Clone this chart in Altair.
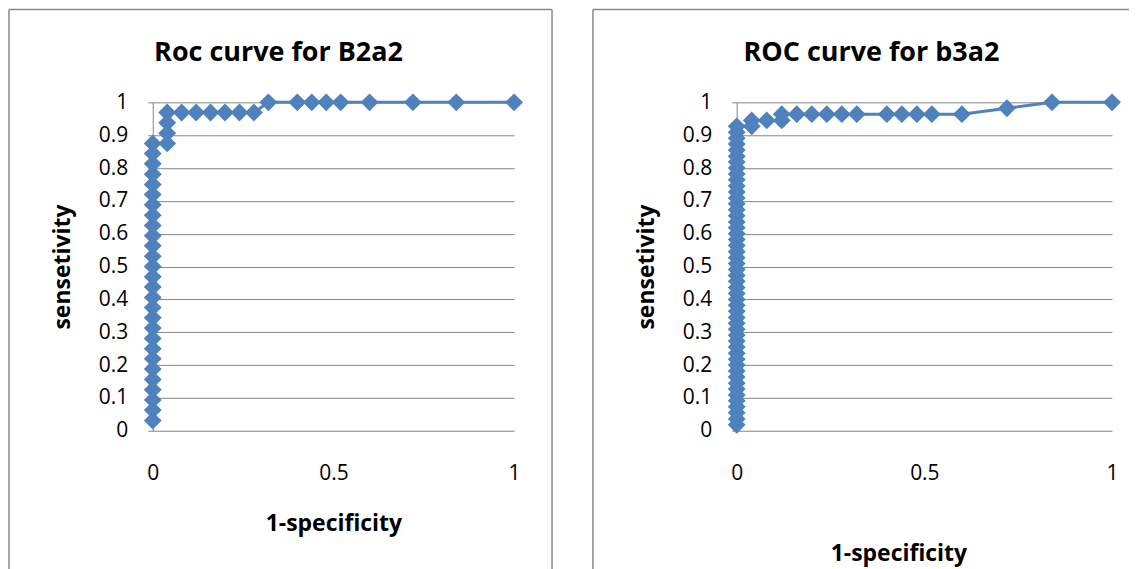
import altair as alt
import pandas as pd

# ---------------- data ----------------
x_ticks = [0, 0.5, 1]
y_ticks = [0, 0.1, 0.2, 0.3, 0.4, 0.5, 0.6, 0.7, 0.8, 0.9, 1]

# Roc curve for B2a2
fpr_b2a2 = ([0.0] * 28
            + [0.04, 0.04, 0.04, 0.04, 0.08, 0.12, 0.16, 0.2, 0.24, 0.28,
               0.32, 0.4, 0.44, 0.48, 0.52, 0.6, 0.72, 0.84, 1.0])
tpr_b2a2 = [0.031, 0.063, 0.094, 0.125, 0.156, 0.188, 0.219, 0.25, 0.281, 0.313,
            0.344, 0.375, 0.406, 0.438, 0.469, 0.5, 0.531, 0.563, 0.594, 0.625,
            0.656, 0.688, 0.719, 0.75, 0.781, 0.813, 0.844, 0.875,
            0.875, 0.906, 0.938, 0.969, 0.969, 0.969, 0.969, 0.969, 0.969, 0.969,
            1.0, 1.0, 1.0, 1.0, 1.0, 1.0, 1.0, 1.0, 1.0]

# ROC curve for b3a2
fpr_b3a2 = ([0.0] * 51
            + [0.04, 0.04, 0.08, 0.12, 0.12, 0.16, 0.2, 0.24, 0.28, 0.32,
               0.4, 0.44, 0.48, 0.52, 0.6, 0.72, 0.84, 1.0])
tpr_b3a2 = [0.018, 0.036, 0.055, 0.073, 0.091, 0.109, 0.127, 0.145, 0.164, 0.182,
            0.2, 0.218, 0.236, 0.255, 0.273, 0.291, 0.309, 0.327, 0.345, 0.364,
            0.382, 0.4, 0.418, 0.436, 0.455, 0.473, 0.491, 0.509, 0.527, 0.545,
            0.564, 0.582, 0.6, 0.618, 0.636, 0.655, 0.673, 0.691, 0.709, 0.727,
            0.745, 0.764, 0.782, 0.8, 0.818, 0.836, 0.855, 0.873, 0.891, 0.909,
            0.927,
            0.927, 0.945, 0.945, 0.945, 0.964, 0.964, 0.964, 0.964, 0.964, 0.964,
            0.964, 0.964, 0.964, 0.964, 0.964, 0.982, 1.0, 1.0]

BLUE = "#4F81BD"
GRAY = "#868686"
FRAME = "#8a8a8a"
FONT = "Open Sans"
H = 329


def panel(xs, ys, title, width, title_x, xtitle_x, xtitle_y, frame_right, draw_right):
    df = pd.DataFrame({"fpr": xs, "tpr": ys, "i": list(range(len(xs)))})
    base = alt.Chart(df)
    x_enc = alt.X(
        "fpr:Q",
        scale=alt.Scale(domain=[0, 1], nice=False, zero=False),
        axis=alt.Axis(values=x_ticks, format="~g", title="1-specificity",
                      grid=False, ticks=False, domain=False, labelPadding=32,
                      labelFlush=False, labelOverlap=False,
                      titleX=xtitle_x, titleY=xtitle_y,
                      titleBaseline="middle", titleAlign="center"),
    )
    y_enc = alt.Y(
        "tpr:Q",
        scale=alt.Scale(domain=[0, 1], nice=False, zero=False),
        axis=alt.Axis(values=y_ticks, format="~g", title="sensetivity",
                      grid=True, ticks=True, tickSize=5, domain=True,
                      labelPadding=20, labelFlush=False, labelOverlap=False,
                      labelBound=False,
                      titleX=-90, titleY=H / 2, titleAngle=270,
                      titleBaseline="middle", titleAlign="center"),
    )
    line = base.mark_line(color=BLUE, strokeWidth=3).encode(
        x=x_enc, y=y_enc, order=alt.Order("i:Q"))
    pts = base.mark_point(shape="diamond", filled=True, size=320, color=BLUE,
                          opacity=1).encode(x=x_enc, y=y_enc)

    one = alt.Chart(pd.DataFrame({"k": [0]}))
    layers = [line, pts]
    layers.append(one.mark_rule(color=FRAME, strokeWidth=1.5).encode(
        x=alt.value(-144), y=alt.value(-93), y2=alt.value(472)))
    layers.append(one.mark_rule(color=FRAME, strokeWidth=1.5).encode(
        x=alt.value(-144), x2=alt.value(frame_right), y=alt.value(-93)))
    if draw_right:
        layers.append(one.mark_rule(color=FRAME, strokeWidth=1.5).encode(
            x=alt.value(frame_right), y=alt.value(-93), y2=alt.value(472)))
    layers.append(one.mark_text(font=FONT, fontSize=27, fontWeight="bold",
                                color="black", align="center",
                                baseline="middle").encode(
        x=alt.value(title_x), y=alt.value(-49), text=alt.value(title)))
    return alt.layer(*layers).properties(width=width, height=H)


left = panel(fpr_b2a2, tpr_b2a2, "Roc curve for B2a2", 362, 126, 181, 93, 400, True)
right = panel(fpr_b3a2, tpr_b3a2, "ROC curve for b3a2", 376, 135, 162, 123, 393, False)

chart = alt.hconcat(left, right, spacing=39).properties(padding=0).configure_view(
    stroke=None
).configure_axis(
    labelFont=FONT, labelFontSize=21, labelColor="black", labelOverlap=False,
    titleFont=FONT, titleFontSize=23, titleFontWeight="bold", titleColor="black",
    gridColor=GRAY, gridWidth=1, domainColor=GRAY, domainWidth=1,
    tickColor=GRAY, tickWidth=1,
)

chart.save("out.html", embed_options={"renderer": "svg", "actions": False})
